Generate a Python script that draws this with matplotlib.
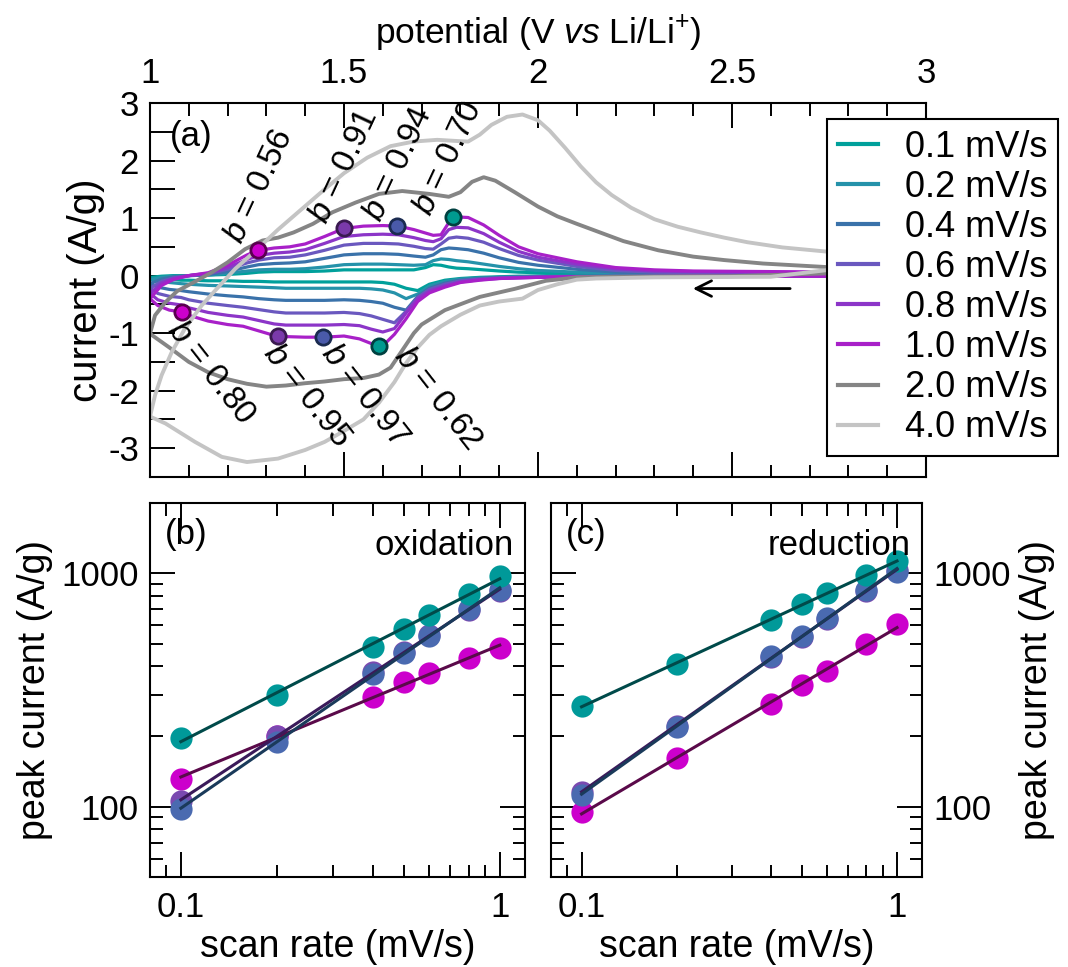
import matplotlib
matplotlib.use("Agg")
import matplotlib.pyplot as plt
from matplotlib.ticker import MultipleLocator, FuncFormatter, LogLocator, NullFormatter
import numpy as np

plt.rcParams["font.family"] = ["Liberation Sans", "DejaVu Sans"]
plt.rcParams["mathtext.fontset"] = "custom"
plt.rcParams["mathtext.rm"] = "Liberation Sans"
plt.rcParams["mathtext.it"] = "Liberation Sans:italic"
plt.rcParams["axes.unicode_minus"] = False

# ---- panel (a): cyclic voltammograms ----
RATE_LABELS = ["0.1 mV/s", "0.2 mV/s", "0.4 mV/s", "0.6 mV/s", "0.8 mV/s", "1.0 mV/s", "2.0 mV/s", "4.0 mV/s"]
RATE_COLORS = ["#00a09b", "#2592aa", "#3a72aa", "#6a58bf", "#8c35c8", "#a820c8", "#858585", "#c4c4c4"]

# anodic sweep (1 V -> 3 V), colored rates
V_ANODIC = [1.00, 1.03, 1.06, 1.10, 1.15, 1.20, 1.25, 1.28, 1.32, 1.36, 1.40, 1.45, 1.50, 1.55, 1.60, 1.64,
            1.68, 1.71, 1.73, 1.75, 1.77, 1.79, 1.82, 1.86, 1.90, 1.95, 2.00, 2.10, 2.20, 2.30, 2.40, 2.60, 2.80, 3.00]
I_ANODIC = {
    "0.1": [-0.03, -0.01, 0.00, 0.00, 0.01, 0.02, 0.04, 0.06, 0.07, 0.07, 0.07, 0.08, 0.10, 0.10, 0.10, 0.10,
            0.10, 0.14, 0.19, 0.18, 0.15, 0.13, 0.12, 0.10, 0.08, 0.06, 0.05, 0.03, 0.02, 0.02, 0.01, 0.01, 0.01, 0.01],
    "0.2": [-0.07, -0.03, -0.01, 0.00, 0.01, 0.04, 0.08, 0.10, 0.11, 0.11, 0.12, 0.15, 0.19, 0.20, 0.20, 0.19,
            0.18, 0.19, 0.26, 0.29, 0.28, 0.26, 0.24, 0.20, 0.16, 0.12, 0.09, 0.06, 0.04, 0.03, 0.02, 0.02, 0.02, 0.02],
    "0.4": [-0.14, -0.06, -0.02, 0.00, 0.02, 0.07, 0.15, 0.19, 0.21, 0.22, 0.24, 0.30, 0.36, 0.38, 0.38, 0.37,
            0.34, 0.32, 0.36, 0.45, 0.48, 0.47, 0.45, 0.39, 0.31, 0.23, 0.18, 0.11, 0.06, 0.04, 0.04, 0.03, 0.03, 0.03],
    "0.6": [-0.22, -0.10, -0.04, 0.00, 0.03, 0.11, 0.22, 0.27, 0.31, 0.32, 0.36, 0.44, 0.53, 0.56, 0.56, 0.55,
            0.51, 0.47, 0.46, 0.55, 0.65, 0.67, 0.65, 0.58, 0.47, 0.35, 0.27, 0.16, 0.09, 0.06, 0.05, 0.05, 0.04, 0.04],
    "0.8": [-0.31, -0.13, -0.05, 0.00, 0.04, 0.14, 0.28, 0.35, 0.39, 0.41, 0.45, 0.56, 0.68, 0.71, 0.72, 0.71,
            0.66, 0.61, 0.59, 0.64, 0.80, 0.84, 0.83, 0.73, 0.58, 0.42, 0.32, 0.20, 0.12, 0.08, 0.07, 0.06, 0.05, 0.04],
    "1.0": [-0.40, -0.17, -0.07, 0.00, 0.05, 0.18, 0.36, 0.44, 0.48, 0.50, 0.55, 0.68, 0.82, 0.86, 0.87, 0.86,
            0.80, 0.74, 0.70, 0.71, 0.92, 1.02, 1.01, 0.88, 0.70, 0.50, 0.38, 0.24, 0.14, 0.10, 0.08, 0.07, 0.06, 0.05],
}

# cathodic sweep (3 V -> 1 V), colored rates
V_CATHODIC = [3.00, 2.80, 2.60, 2.40, 2.20, 2.10, 2.00, 1.95, 1.90, 1.85, 1.80, 1.76, 1.72, 1.69, 1.66, 1.63, 1.60,
              1.57, 1.54, 1.50, 1.45, 1.40, 1.35, 1.32, 1.28, 1.24, 1.20, 1.15, 1.10, 1.08, 1.05, 1.02, 1.00]
I_CATHODIC = {
    "0.1": [0.01, 0.00, 0.00, 0.00, -0.01, -0.01, -0.01, -0.01, -0.02, -0.03, -0.05, -0.08, -0.15, -0.26, -0.22, -0.15, -0.12,
            -0.11, -0.11, -0.11, -0.11, -0.11, -0.11, -0.11, -0.10, -0.10, -0.09, -0.09, -0.08, -0.08, -0.06, -0.05, -0.03],
    "0.2": [0.02, 0.00, 0.00, -0.01, -0.01, -0.01, -0.01, -0.02, -0.03, -0.04, -0.06, -0.10, -0.18, -0.32, -0.40, -0.30, -0.25,
            -0.23, -0.22, -0.22, -0.22, -0.22, -0.22, -0.21, -0.20, -0.19, -0.18, -0.17, -0.15, -0.14, -0.12, -0.10, -0.07],
    "0.4": [0.03, -0.01, -0.01, -0.01, -0.01, -0.01, -0.02, -0.03, -0.03, -0.05, -0.08, -0.13, -0.22, -0.36, -0.60, -0.55, -0.48,
            -0.45, -0.43, -0.42, -0.43, -0.43, -0.43, -0.42, -0.40, -0.37, -0.35, -0.32, -0.28, -0.26, -0.24, -0.20, -0.14],
    "0.6": [0.04, -0.01, -0.01, -0.01, -0.01, -0.02, -0.02, -0.03, -0.04, -0.06, -0.09, -0.15, -0.24, -0.38, -0.62, -0.82, -0.76,
            -0.70, -0.66, -0.64, -0.65, -0.65, -0.65, -0.63, -0.59, -0.55, -0.52, -0.48, -0.42, -0.38, -0.36, -0.31, -0.22],
    "0.8": [0.04, -0.01, -0.01, -0.01, -0.02, -0.02, -0.03, -0.04, -0.05, -0.07, -0.11, -0.18, -0.27, -0.40, -0.65, -0.92, -0.98,
            -0.93, -0.87, -0.85, -0.86, -0.86, -0.86, -0.84, -0.78, -0.72, -0.69, -0.64, -0.56, -0.51, -0.48, -0.42, -0.31],
    "1.0": [0.05, -0.01, -0.01, -0.01, -0.02, -0.02, -0.03, -0.04, -0.05, -0.08, -0.12, -0.20, -0.30, -0.45, -0.75, -1.02, -1.22,
            -1.18, -1.10, -1.05, -1.07, -1.07, -1.06, -1.04, -0.96, -0.88, -0.85, -0.79, -0.69, -0.63, -0.60, -0.52, -0.40],
}

# 2.0 mV/s
V_2_ANODIC = [1.00, 1.013, 1.04, 1.07, 1.12, 1.16, 1.20, 1.245, 1.29, 1.33, 1.37, 1.42, 1.47, 1.53, 1.59, 1.65, 1.72,
              1.77, 1.80, 1.83, 1.86, 1.89, 1.94, 2.00, 2.05, 2.10, 2.14, 2.18, 2.22, 2.31, 2.40, 2.48, 2.58, 2.74, 3.00]
I_2_ANODIC = [-1.01, -0.69, -0.46, -0.27, -0.09, 0.06, 0.23, 0.46, 0.61, 0.66, 0.75, 0.90, 1.10, 1.27, 1.42, 1.47, 1.42,
              1.37, 1.45, 1.63, 1.71, 1.65, 1.45, 1.20, 1.03, 0.90, 0.80, 0.70, 0.60, 0.44, 0.33, 0.27, 0.21, 0.15, 0.09]
V_2_CATHODIC = [3.00, 2.50, 2.20, 2.10, 2.02, 1.94, 1.85, 1.76, 1.70, 1.68, 1.65, 1.62, 1.59, 1.55, 1.50, 1.45, 1.40,
                1.35, 1.30, 1.25, 1.20, 1.15, 1.10, 1.05, 1.00]
I_2_CATHODIC = [0.09, -0.01, -0.02, -0.03, -0.09, -0.23, -0.37, -0.60, -0.85, -1.00, -1.30, -1.60, -1.72, -1.78, -1.80,
                -1.84, -1.87, -1.91, -1.93, -1.88, -1.80, -1.68, -1.50, -1.25, -1.01]

# 4.0 mV/s
V_4_ANODIC = [1.00, 1.013, 1.03, 1.056, 1.09, 1.133, 1.176, 1.22, 1.27, 1.33, 1.39, 1.45, 1.50, 1.56, 1.62, 1.68, 1.74,
              1.79, 1.82, 1.85, 1.88, 1.92, 1.96, 2.00, 2.03, 2.07, 2.11, 2.15, 2.19, 2.24, 2.30, 2.36, 2.42, 2.48, 2.54,
              2.63, 2.74, 2.85, 3.00]
I_4_ANODIC = [-2.45, -2.08, -1.73, -1.33, -0.92, -0.52, -0.20, 0.12, 0.42, 0.80, 1.15, 1.50, 1.78, 2.05, 2.25, 2.33, 2.36,
              2.34, 2.33, 2.45, 2.62, 2.76, 2.80, 2.70, 2.52, 2.22, 1.90, 1.62, 1.40, 1.18, 0.98, 0.85, 0.75, 0.66, 0.58,
              0.49, 0.42, 0.36, 0.30]
V_4_CATHODIC = [3.00, 2.60, 2.30, 2.15, 2.10, 2.05, 2.00, 1.96, 1.90, 1.85, 1.80, 1.75, 1.72, 1.69, 1.66, 1.63, 1.59,
                1.55, 1.50, 1.45, 1.40, 1.33, 1.25, 1.185, 1.116, 1.04, 1.00]
I_4_CATHODIC = [0.30, -0.02, -0.03, -0.05, -0.07, -0.15, -0.25, -0.40, -0.45, -0.52, -0.68, -0.88, -1.03, -1.25, -1.52,
                -1.85, -2.21, -2.50, -2.70, -2.89, -3.03, -3.18, -3.24, -3.15, -2.89, -2.57, -2.45]

# peaks marked on the 1.0 mV/s curve and their b-values
OX_PEAK_V = [1.279, 1.501, 1.637, 1.782]
OX_PEAK_I = [0.44, 0.82, 0.86, 1.02]
OX_B = ["0.56", "0.91", "0.94", "0.70"]
RED_PEAK_V = [1.082, 1.329, 1.445, 1.591]
RED_PEAK_I = [-0.63, -1.05, -1.07, -1.22]
RED_B = ["0.80", "0.95", "0.97", "0.62"]
PEAK_FILL = ["#cc00cc", "#7a3aaa", "#4a5aaa", "#009a90"]
PEAK_EDGE = ["#5a0050", "#3a1a50", "#1a2a50", "#004040"]

# ---- panels (b), (c): peak current vs scan rate ----
SCAN_RATES = [0.1, 0.2, 0.4, 0.5, 0.6, 0.8, 1.0]
OX_CURRENT = {
    "magenta": [132, 200, 294, 341, 373, 432, 480],
    "purple": [106, 201, 377, 460, 545, 698, 840],
    "blue": [97.4, 190, 370, 454, 541, 701, 848],
    "teal": [196, 301, 485, 577, 663, 815, 974],
}
RED_CURRENT = {
    "magenta": [95.2, 161, 275, 332, 381, 496, 604],
    "purple": [116, 222, 438, 536, 640, 842, 1030],
    "blue": [112, 220, 442, 541, 646, 848, 1017],
    "teal": [270, 409, 631, 739, 821, 984, 1129],
}
SERIES_FILL = {"magenta": "#cc00cc", "purple": "#7a4ab0", "blue": "#4a6ab0", "teal": "#009999"}
SERIES_LINE = {"magenta": "#5a0a4a", "purple": "#3a1a5a", "blue": "#1a3a5a", "teal": "#004a4a"}

FS_TICK = 25
FS_LABEL = 27

fig = plt.figure(figsize=(10.68, 9.67), dpi=100)
ax = fig.add_axes([150 / 1068, 1 - 477 / 967, 776 / 1068, 374 / 967])

for key, color, label in zip(I_ANODIC, RATE_COLORS[:6], RATE_LABELS[:6]):
    ax.plot(V_ANODIC + V_CATHODIC, I_ANODIC[key] + I_CATHODIC[key], color=color, lw=2.3, label=label,
            solid_joinstyle="round")
ax.plot(V_2_ANODIC + V_2_CATHODIC, I_2_ANODIC + I_2_CATHODIC, color=RATE_COLORS[6], lw=2.8, label=RATE_LABELS[6],
        solid_joinstyle="round")
ax.plot(V_4_ANODIC + V_4_CATHODIC, I_4_ANODIC + I_4_CATHODIC, color=RATE_COLORS[7], lw=2.8, label=RATE_LABELS[7],
        solid_joinstyle="round")

ox_offsets = [(1, 46), (0, 45), (1, 45), (-4, 42)]
red_offsets = [(21, -44), (21, -43), (30, -42), (42, -38)]
for v, i, b, fc, ec, off in zip(OX_PEAK_V, OX_PEAK_I, OX_B, PEAK_FILL, PEAK_EDGE, ox_offsets):
    ax.plot(v, i, "o", ms=11, mfc=fc, mec=ec, mew=2, zorder=5)
    ax.annotate(rf"$b$ = {b}", (v, i), xytext=off, textcoords="offset points", rotation=65,
                ha="center", va="center", fontsize=24, zorder=6)
for v, i, b, fc, ec, off in zip(RED_PEAK_V, RED_PEAK_I, RED_B, PEAK_FILL, PEAK_EDGE, red_offsets):
    ax.plot(v, i, "o", ms=11, mfc=fc, mec=ec, mew=2, zorder=5)
    ax.annotate(rf"$b$ = {b}", (v, i), xytext=off, textcoords="offset points", rotation=-52,
                ha="center", va="center", fontsize=24, zorder=6)

ax.annotate("", xy=(2.392, -0.225), xytext=(2.657, -0.225),
            arrowprops=dict(arrowstyle="->", color="black", lw=2, mutation_scale=28))

ax.set_xlim(1, 3)
ax.set_ylim(-3.5, 3)
ax.xaxis.set_major_locator(MultipleLocator(0.5))
ax.xaxis.set_minor_locator(MultipleLocator(0.1))
ax.xaxis.set_major_formatter(FuncFormatter(lambda x, _: f"{x:g}"))
ax.yaxis.set_major_locator(MultipleLocator(0.5))
ax.yaxis.set_major_formatter(FuncFormatter(lambda y, _: f"{y:.0f}" if abs(y - round(y)) < 1e-6 else ""))
ax.tick_params(axis="x", which="both", direction="in", top=True, bottom=True, labeltop=True, labelbottom=False,
               width=1.4, labelsize=FS_TICK, pad=9)
ax.tick_params(axis="x", which="major", length=18)
ax.tick_params(axis="x", which="minor", length=9)
ax.tick_params(axis="y", which="major", direction="in", left=True, right=False, length=18, width=1.4,
               labelsize=FS_TICK, pad=8)
ax.xaxis.set_label_position("top")
ax.set_xlabel(r"potential (V $\mathit{vs}$ Li/Li$^{+}$)", fontsize=25.5, labelpad=10)
ax.set_ylabel("current (A/g)", fontsize=29, labelpad=2)
for s in ax.spines.values():
    s.set_linewidth(1.5)
ax.text(0.025, 0.955, "(a)", transform=ax.transAxes, fontsize=FS_TICK, ha="left", va="top")

leg = ax.legend(loc="upper left", bbox_to_anchor=(827 / 1068, 1 - 119 / 967), bbox_transform=fig.transFigure,
                fontsize=26, frameon=True, fancybox=False, framealpha=1, edgecolor="black", borderpad=0.3,
                labelspacing=0.14, handlelength=1.1, handletextpad=0.75, borderaxespad=0)
leg.get_frame().set_linewidth(1.5)
for line in leg.get_lines():
    line.set_linewidth(3)


def peak_panel(axp, data, title, letter, side):
    for name, vals in data.items():
        axp.plot(SCAN_RATES, vals, "o", ms=16, color=SERIES_FILL[name], mec="none", zorder=3)
    for name, vals in data.items():
        slope, icpt = np.polyfit(np.log10(SCAN_RATES), np.log10(vals), 1)
        ends = np.array([SCAN_RATES[0], SCAN_RATES[-1]])
        axp.plot(ends, 10 ** (icpt + slope * np.log10(ends)), color=SERIES_LINE[name], lw=2.2, zorder=4)
    axp.set_xscale("log")
    axp.set_yscale("log")
    axp.set_xlim(0.08, 1.2)
    axp.set_ylim(50, 2000)
    axp.xaxis.set_major_locator(LogLocator(base=10, numticks=10))
    axp.xaxis.set_minor_locator(LogLocator(base=10, subs=np.arange(2, 10) * 0.1 * 10, numticks=10))
    axp.xaxis.set_major_formatter(FuncFormatter(lambda x, _: f"{x:g}"))
    axp.xaxis.set_minor_formatter(NullFormatter())
    axp.yaxis.set_major_formatter(FuncFormatter(lambda y, _: f"{y:g}"))
    axp.yaxis.set_minor_formatter(NullFormatter())
    axp.tick_params(which="both", direction="in", top=True, bottom=True, left=True, right=True, width=1.4,
                    labelsize=FS_TICK)
    axp.tick_params(which="major", length=18)
    axp.tick_params(which="minor", length=9)
    axp.tick_params(axis="x", pad=10)
    axp.tick_params(axis="y", pad=8)
    if side == "right":
        axp.tick_params(axis="y", labelleft=False, labelright=True)
        axp.yaxis.set_label_position("right")
    axp.set_ylabel("peak current (A/g)", fontsize=FS_LABEL, labelpad=6)
    axp.set_xlabel("scan rate (mV/s)", fontsize=FS_LABEL, labelpad=4)
    for s in axp.spines.values():
        s.set_linewidth(1.5)
    axp.text(0.04, 0.96, letter, transform=axp.transAxes, fontsize=FS_TICK, ha="left", va="top")
    axp.text(0.97, 0.93, title, transform=axp.transAxes, fontsize=FS_TICK, ha="right", va="top")


axb = fig.add_axes([150 / 1068, 1 - 877 / 967, 375 / 1068, 374 / 967])
peak_panel(axb, OX_CURRENT, "oxidation", "(b)", "left")
axc = fig.add_axes([551 / 1068, 1 - 877 / 967, 371 / 1068, 374 / 967])
peak_panel(axc, RED_CURRENT, "reduction", "(c)", "right")

fig.savefig("out.png", dpi=100)
